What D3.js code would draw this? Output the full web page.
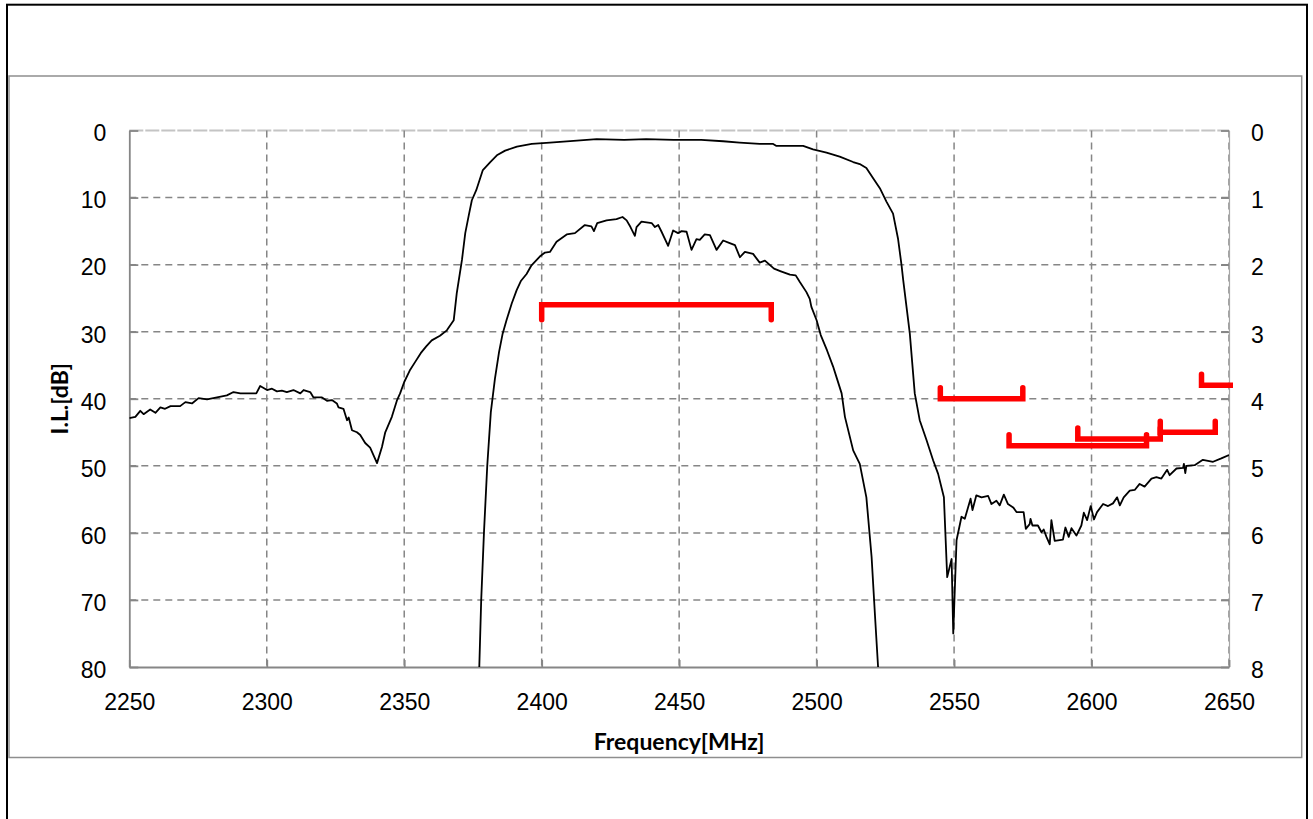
<!DOCTYPE html>
<html lang="en">
<head>
<meta charset="UTF-8">
<title>Filter response</title>
<script src="https://cdn.jsdelivr.net/npm/d3@7/dist/d3.min.js"></script>
<style>
  * { margin: 0; padding: 0; }
  body { background: #fff; width: 1313px; height: 819px; overflow: hidden; }
  svg { display: block; font-family: 'Lato', 'Open Sans', sans-serif; }
  .tick text { font-size: 23px; fill: #000; }
  .axis-title { font-size: 23px; font-weight: bold; fill: #000; }
</style>
</head>
<body>
<svg id="chart" width="1313" height="819"></svg>
<script>
// ─── Data ────────────────────────────────────────────────────────────────────

const freqTicks = [2250, 2300, 2350, 2400, 2450, 2500, 2550, 2600, 2650];
const attTicks  = [0, 10, 20, 30, 40, 50, 60, 70, 80];
const ilTicks   = [0, 1, 2, 3, 4, 5, 6, 7, 8];

// wide-band attenuation sweep, left axis (dB)
const outerFreq = [
  2250.0, 2252.2, 2254.0, 2255.2, 2257.6, 2259.5, 2261.3, 2263.0, 2265.0, 2268.5,
  2270.4, 2272.8, 2275.2, 2278.3, 2281.9, 2285.5, 2287.9, 2290.4, 2296.2, 2297.6,
  2300.1, 2301.9, 2303.7, 2305.5, 2307.3, 2309.7, 2312.2, 2313.4, 2315.8, 2317.0,
  2320.1, 2321.9, 2323.7, 2325.5, 2326.1, 2327.9, 2329.2, 2329.8, 2331.0, 2332.8,
  2334.0, 2335.8, 2337.6, 2340.1, 2341.9, 2343.1, 2345.5, 2347.4, 2348.5, 2350.0,
  2352.0, 2354.0, 2356.0, 2358.0, 2360.0, 2363.0, 2365.5, 2368.0, 2369.1, 2371.0,
  2372.2, 2373.6, 2374.6, 2376.2, 2378.6, 2381.3, 2383.7, 2386.7, 2391.0, 2396.4,
  2403.0, 2412.8, 2420.0, 2430.0, 2438.0, 2448.0, 2458.0, 2466.0, 2472.0, 2479.3,
  2484.2, 2485.4, 2495.1, 2498.7, 2503.6, 2508.4, 2513.3, 2515.7, 2518.1, 2520.5,
  2523.0, 2525.4, 2527.8, 2529.6, 2530.9, 2531.5, 2532.7, 2533.9, 2535.7, 2537.5,
  2540.0, 2542.4, 2544.2, 2546.3, 2547.5, 2549.1, 2549.7, 2550.9, 2552.7, 2553.9,
  2556.0, 2556.7, 2558.1, 2560.0, 2562.4, 2563.6, 2565.4, 2566.6, 2568.1, 2569.6,
  2571.5, 2572.7, 2575.3, 2576.1, 2577.5, 2577.8, 2578.5, 2580.5, 2581.8, 2582.6,
  2583.6, 2584.8, 2585.4, 2586.6, 2589.6, 2590.5, 2591.7, 2592.7, 2594.5, 2596.3,
  2597.2, 2598.4, 2599.7, 2600.9, 2602.0, 2604.2, 2606.0, 2607.8, 2609.3, 2610.3,
  2611.7, 2613.9, 2615.7, 2617.5, 2619.3, 2621.8, 2623.6, 2625.4, 2627.5, 2628.4,
  2630.9, 2633.3, 2633.6, 2634.1, 2634.5, 2637.5, 2640.5, 2644.2, 2647.2, 2650.0
];
const outerDb = [
  42.9, 42.7, 41.8, 42.3, 41.6, 42.1, 41.3, 41.5, 41.1, 41.1,
  40.5, 40.7, 39.9, 40.1, 39.8, 39.5, 39.0, 39.2, 39.2, 38.1,
  38.7, 38.5, 38.9, 38.8, 39.0, 38.7, 39.2, 38.7, 39.0, 39.8,
  39.8, 40.3, 40.2, 40.7, 41.3, 41.5, 43.2, 42.8, 44.7, 45.0,
  45.4, 46.6, 47.3, 49.6, 47.2, 45.0, 42.7, 40.2, 39.2, 37.5,
  35.8, 34.5, 33.2, 32.2, 31.3, 30.6, 29.8, 28.3, 24.3, 19.3,
  15.3, 12.4, 10.4, 8.9, 5.9, 4.7, 3.7, 3.0, 2.4, 2.0,
  1.8, 1.5, 1.3, 1.4, 1.3, 1.4, 1.4, 1.6, 1.8, 2.0,
  2.0, 2.3, 2.3, 2.8, 3.3, 3.9, 4.7, 5.0, 5.6, 7.1,
  8.6, 10.6, 12.4, 16.1, 20.1, 22.3, 26.3, 30.3, 39.2, 43.2,
  46.2, 49.2, 51.2, 54.7, 66.6, 63.9, 75.0, 61.1, 57.6, 57.9,
  54.9, 56.6, 54.4, 54.7, 54.5, 55.7, 55.2, 55.9, 54.3, 55.7,
  56.2, 56.9, 56.9, 59.4, 58.7, 57.9, 58.9, 58.9, 59.9, 59.5,
  60.6, 61.7, 58.1, 61.2, 61.0, 59.2, 60.6, 59.3, 60.4, 58.9,
  57.0, 58.1, 56.0, 58.0, 56.9, 55.7, 56.0, 55.6, 54.7, 55.9,
  54.7, 53.7, 53.6, 52.7, 53.1, 51.9, 51.7, 51.9, 50.6, 51.4,
  50.4, 50.3, 49.7, 51.1, 50.0, 49.9, 49.1, 49.4, 48.9, 48.4
];

// passband insertion loss, right axis (dB)
const innerFreq = [
  2376.8, 2377.3, 2378.0, 2379.0, 2380.2, 2381.5, 2383.0, 2384.5, 2385.8, 2387.2,
  2389.1, 2390.9, 2392.5, 2394.5, 2396.3, 2399.3, 2401.2, 2403.0, 2405.4, 2409.1,
  2412.1, 2415.7, 2418.1, 2419.0, 2420.2, 2423.6, 2427.2, 2429.4, 2430.9, 2432.3,
  2433.9, 2434.5, 2436.3, 2440.0, 2441.2, 2442.4, 2443.6, 2446.0, 2447.8, 2449.6,
  2450.9, 2452.7, 2454.5, 2456.3, 2457.5, 2459.3, 2461.2, 2463.6, 2466.0, 2468.4,
  2470.3, 2472.1, 2473.9, 2476.9, 2479.3, 2481.2, 2484.5, 2487.0, 2490.3, 2492.4,
  2493.9, 2496.3, 2497.5, 2498.1, 2500.0, 2501.5, 2503.8, 2506.0, 2507.4, 2509.1,
  2510.3, 2513.3, 2515.7, 2518.1, 2520.0, 2521.2, 2522.4, 2522.8
];
const innerDb = [
  8.5, 8.0, 7.0, 6.0, 5.0, 4.2, 3.7, 3.3, 3.03, 2.83,
  2.58, 2.38, 2.24, 2.14, 2.01, 1.88, 1.82, 1.81, 1.66, 1.55,
  1.53, 1.41, 1.43, 1.50, 1.38, 1.34, 1.32, 1.29, 1.34, 1.44,
  1.57, 1.44, 1.36, 1.38, 1.44, 1.41, 1.51, 1.72, 1.49, 1.53,
  1.50, 1.51, 1.78, 1.62, 1.63, 1.55, 1.56, 1.78, 1.64, 1.68,
  1.71, 1.89, 1.81, 1.84, 1.97, 1.94, 2.06, 2.10, 2.15, 2.16,
  2.26, 2.41, 2.51, 2.63, 2.83, 3.05, 3.28, 3.52, 3.70, 3.92,
  4.27, 4.77, 4.97, 5.47, 6.36, 7.21, 8.03, 8.5
];

// spec masks (red brackets)
const maskStart = [2400,   2545, 2570, 2595, 2625, 2640];
const maskEnd   = [2483.5, 2575, 2620, 2625, 2645, 2660];
const maskLevel = [2.6,    40,   47,   46,   45,   38];
const maskAxis  = ['il',   'att', 'att', 'att', 'att', 'att'];

// ─── Layout ──────────────────────────────────────────────────────────────────

const plot = { left: 129.3, right: 1229, top: 130.5, bottom: 667 };
const GRID = '#868686';

const svg = d3.select('#chart');

const x  = d3.scaleLinear().domain([2250, 2650]).range([plot.left, plot.right]);
const yL = d3.scaleLinear().domain([0, 80]).range([plot.top, plot.bottom]);
const yR = d3.scaleLinear().domain([0, 8]).range([plot.top, plot.bottom]);

// frames
svg.append('rect')
  .attr('x', 9).attr('y', 76).attr('width', 1292.7).attr('height', 681.5)
  .attr('fill', 'none').attr('stroke', '#8e8e8e').attr('stroke-width', 1.5);
svg.append('rect')
  .attr('x', 7).attr('y', 4.7).attr('width', 1300).attr('height', 840)
  .attr('fill', 'none').attr('stroke', '#000').attr('stroke-width', 2);

// gridlines
const grid = svg.append('g').attr('class', 'grid');
grid.selectAll('.hgrid')
  .data(attTicks.filter(d => d > 0 && d < 80))
  .enter().append('line')
  .attr('x1', plot.left).attr('x2', plot.right)
  .attr('y1', d => yL(d)).attr('y2', d => yL(d))
  .attr('stroke', GRID).attr('stroke-width', 1.5).attr('stroke-dasharray', '7,5');
grid.append('line')
  .attr('x1', plot.left).attr('x2', plot.right)
  .attr('y1', yL(0)).attr('y2', yL(0))
  .attr('stroke', '#c4c4c4').attr('stroke-width', 2).attr('stroke-dasharray', '14,2');
grid.selectAll('.vgrid')
  .data(freqTicks.filter(d => d > 2250))
  .enter().append('line')
  .attr('x1', d => x(d)).attr('x2', d => x(d))
  .attr('y1', plot.top).attr('y2', plot.bottom)
  .attr('stroke', GRID).attr('stroke-width', 1.5).attr('stroke-dasharray', '7,5');

// axes (ticks point inward like the Excel original)
function styleAxis(g) {
  g.select('.domain').attr('stroke', GRID).attr('stroke-width', 1.8);
  g.selectAll('.tick line').attr('stroke', GRID).attr('stroke-width', 1.8);
  g.selectAll('.tick text').attr('font-family', null).attr('font-size', null);
}

svg.append('g')
  .attr('transform', `translate(${plot.left},0)`)
  .call(d3.axisLeft(yL).tickValues(attTicks).tickSizeInner(-9).tickSizeOuter(0).tickPadding(23))
  .call(styleAxis)
  .call(g => g.selectAll('.tick text').attr('dy', '0.45em'));

svg.append('g')
  .attr('transform', `translate(${plot.right},0)`)
  .call(d3.axisRight(yR).tickValues(ilTicks).tickSizeInner(-8).tickSizeOuter(0).tickPadding(22))
  .call(styleAxis)
  .call(g => g.select('.domain').attr('stroke', '#a6a6a6').attr('stroke-width', 1.2))
  .call(g => g.selectAll('.tick text').attr('dy', '0.45em'));

svg.append('g')
  .attr('transform', `translate(0,${plot.bottom})`)
  .call(d3.axisBottom(x).tickValues(freqTicks).tickSizeInner(-7).tickSizeOuter(0).tickPadding(27).tickFormat(d3.format('d')))
  .call(styleAxis);

// axis titles
svg.append('text')
  .attr('class', 'axis-title')
  .attr('x', (plot.left + plot.right) / 2).attr('y', 750)
  .attr('text-anchor', 'middle')
  .text('Frequency[MHz]');

svg.append('text')
  .attr('class', 'axis-title')
  .attr('transform', `translate(68,${(plot.top + plot.bottom) / 2}) rotate(-90)`)
  .attr('text-anchor', 'middle')
  .text('I.L.[dB]');

// ─── Curves ──────────────────────────────────────────────────────────────────

svg.append('clipPath').attr('id', 'plot-clip')
  .append('rect')
  .attr('x', plot.left).attr('y', plot.top)
  .attr('width', plot.right - plot.left).attr('height', plot.bottom - plot.top);

svg.append('clipPath').attr('id', 'mask-clip')
  .append('rect')
  .attr('x', plot.left - 5).attr('y', plot.top - 5)
  .attr('width', plot.right - plot.left + 9).attr('height', plot.bottom - plot.top + 10);

const curves = svg.append('g').attr('clip-path', 'url(#plot-clip)');

const outerLine = d3.line().x((d, i) => x(outerFreq[i])).y((d, i) => yL(outerDb[i]));
const innerLine = d3.line().x((d, i) => x(innerFreq[i])).y((d, i) => yR(innerDb[i]));

curves.append('path')
  .attr('d', outerLine(outerFreq))
  .attr('fill', 'none').attr('stroke', '#000').attr('stroke-width', 1.8)
  .attr('stroke-linejoin', 'round');

curves.append('path')
  .attr('d', innerLine(innerFreq))
  .attr('fill', 'none').attr('stroke', '#000').attr('stroke-width', 1.8)
  .attr('stroke-linejoin', 'round');

// ─── Spec brackets ───────────────────────────────────────────────────────────
// insertion-loss limit hooks downward, attenuation limits hook upward

const masks = svg.append('g').attr('clip-path', 'url(#mask-clip)');

maskStart.forEach((f1, i) => {
  const f2 = maskEnd[i];
  const isIL = maskAxis[i] === 'il';
  const yy = isIL ? yR(maskLevel[i]) : yL(maskLevel[i]);
  const hook = isIL ? 15 : -11;
  const pts = [[x(f1), yy + hook], [x(f1), yy], [x(f2), yy], [x(f2), yy + hook]];
  masks.append('path')
    .attr('d', d3.line()(pts))
    .attr('fill', 'none').attr('stroke', '#ff0000').attr('stroke-width', 5.5)
    .attr('stroke-linecap', 'round').attr('stroke-linejoin', 'miter');
});
</script>
</body>
</html>
